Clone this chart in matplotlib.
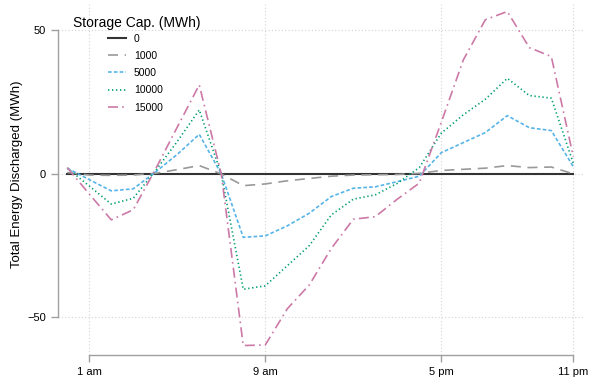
import matplotlib
matplotlib.use("Agg")
import matplotlib.pyplot as plt
import numpy as np

plt.rcParams['font.family'] = ['Liberation Sans', 'DejaVu Sans']

hours = list(range(24))
cap_labels = ["0", "1000", "5000", "10000", "15000"]
s0 = [0.0] * 24
s1000 = [0.5, -0.4, -0.5, -0.4, 0.2, 1.5, 2.9, 0.0, -4.1, -3.5, -2.4, -1.6, -0.8, -0.4,
         -0.3, -0.2, 0.2, 1.2, 1.6, 2.0, 2.9, 2.2, 2.4, 0.0]
s5000 = [2.0, -2.0, -5.9, -5.2, 0.6, 6.8, 13.8, 0.0, -22.1, -21.6, -18.1, -13.7, -7.9, -5.0,
         -4.5, -2.7, -0.8, 7.4, 10.9, 14.4, 20.3, 16.1, 15.1, 2.5]
s10000 = [2.0, -4.2, -10.5, -8.5, 1.0, 11.3, 22.3, 0.0, -40.2, -39.0, -32.0, -25.0, -14.3, -8.8,
          -7.3, -3.3, 2.2, 14.2, 20.6, 26.0, 33.3, 27.3, 26.4, 3.7]
s15000 = [2.2, -7.0, -16.0, -12.5, 1.5, 16.3, 31.0, 0.0, -59.8, -59.6, -47.0, -38.7, -26.0, -15.8,
          -14.9, -8.8, -3.2, 18.0, 39.7, 53.7, 56.6, 44.0, 40.9, 6.0]
series = [s0, s1000, s5000, s10000, s15000]

xticks = [1, 9, 17, 23]
xticklabels = ["1 am", "9 am", "5 pm", "11 pm"]
yticks = [-50, 0, 50]

colors = ["#333333", "#999999", "#56B4E9", "#009E73", "#CC79A7"]
styles = ["-", (0, (6, 4)), (0, (2.2, 1.3)), (0, (0.8, 1.6)), (0, (6, 2.5, 1, 2.5))]
widths = [1.5, 1.2, 1.2, 1.2, 1.2]

W, H = 589, 378
fig = plt.figure(figsize=(W / 100, H / 100), dpi=100)
L, R, T, B = 58, 583, 4, 355
ax = fig.add_axes([L / W, 1 - B / H, (R - L) / W, (B - T) / H])

lines = []
for s, c, ls, lw, lab in zip(series, colors, styles, widths, cap_labels):
    ln, = ax.plot(hours, s, color=c, linestyle=ls, linewidth=lw, label=lab, zorder=3)
    lines.append(ln)

ylo, yhi = -63.1, 59.2
ax.set_xlim(-0.42, 23.44)
ax.set_ylim(ylo, yhi)
ax.set_xticks(xticks)
ax.set_xticklabels(xticklabels)
ax.set_yticks(yticks)
ax.grid(True, color="#d4d4d4", linestyle=(0, (1, 2)), linewidth=0.8, zorder=0)

for sp in ["top", "right"]:
    ax.spines[sp].set_visible(False)
ax.spines["left"].set_bounds(-50, 50)
ax.spines["bottom"].set_bounds(1, 23)
for sp in ["left", "bottom"]:
    ax.spines[sp].set_color("#a0a0a0")
    ax.spines[sp].set_linewidth(1.0)
ax.tick_params(axis="both", colors="#a0a0a0", length=5, width=1.0,
               labelsize=8, labelcolor="black")

ax.set_ylabel("Total Energy Discharged (MWh)", fontsize=9.5)
ax.yaxis.set_label_coords(-35 / (R - L), (0 - ylo) / (yhi - ylo))

fig.text(73 / W, 1 - 26.7 / H, "Storage Cap. (MWh)", fontsize=10, ha="left", va="baseline")
leg = ax.legend(handles=lines, loc="upper left", bbox_to_anchor=(108 / W, 1 - 33.5 / H),
                bbox_transform=fig.transFigure, frameon=False, fontsize=7.5,
                handlelength=1.7, handletextpad=0.8, labelspacing=0.7, borderpad=0,
                borderaxespad=0)

fig.savefig("out.png", dpi=100)
